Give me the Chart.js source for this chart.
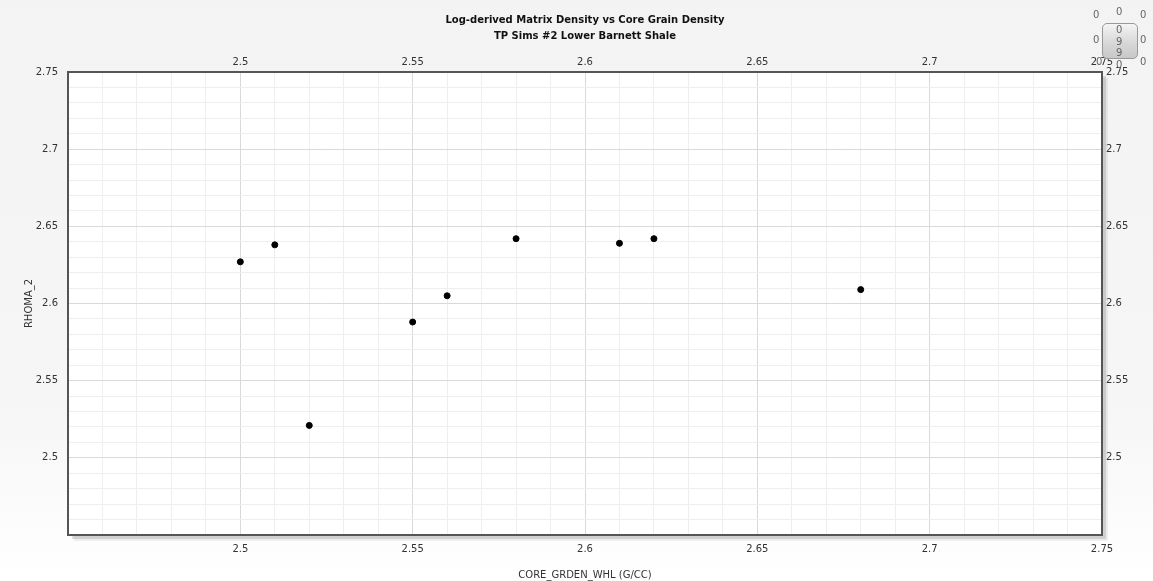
<!DOCTYPE html>
<html>
<head>
<meta charset="utf-8">
<script src="https://cdn.jsdelivr.net/npm/chart.js@4"></script>
<style>
  html, body { margin: 0; padding: 0; }
  body {
    width: 1153px; height: 581px; overflow: hidden; position: relative;
    background: linear-gradient(#f3f3f3 0%, #f6f6f6 70%, #ffffff 100%);
    font-family: "DejaVu Sans", Verdana, sans-serif;
  }
  #wrap { position: absolute; left: 0; top: 0; width: 1153px; height: 581px; }
  .title { position: absolute; left: 0; width: 1170px; text-align: center; font-weight: bold; font-size: 10px; color: #111; }
  .w { position: absolute; font-size: 10px; color: #666; line-height: 10px; }
  #box {
    position: absolute; left: 1102px; top: 23px; width: 34px; height: 34px;
    border: 1px solid #999; border-radius: 5px;
    background: linear-gradient(#f4f4f4, #d6d6d6 60%, #c8c8c8);
  }
</style>
</head>
<body>
<div id="wrap"><canvas id="chart" width="1153" height="581"></canvas></div>
<div class="title" style="top:14px">Log-derived Matrix Density vs Core Grain Density</div>
<div class="title" style="top:30px">TP Sims #2 Lower Barnett Shale</div>
<div id="box"></div>
<div class="w" style="left:1093px;top:10px">0</div>
<div class="w" style="left:1116px;top:7px">0</div>
<div class="w" style="left:1140px;top:10px">0</div>
<div class="w" style="left:1093px;top:35px">0</div>
<div class="w" style="left:1116px;top:25px">0</div>
<div class="w" style="left:1116px;top:37px">9</div>
<div class="w" style="left:1116px;top:48px">9</div>
<div class="w" style="left:1140px;top:35px">0</div>
<div class="w" style="left:1096px;top:57px">0</div>
<div class="w" style="left:1140px;top:57px">0</div>
<div class="w" style="left:1116px;top:60px">0</div>
<script>
// values
const coreGrainDensity = [2.5, 2.51, 2.52, 2.55, 2.56, 2.58, 2.61, 2.62, 2.68];
const rhoma2 = [2.627, 2.638, 2.521, 2.588, 2.605, 2.642, 2.639, 2.642, 2.609];
const xMin = 2.45, xMax = 2.75;
const yMin = 2.45, yMax = 2.75;
const minorStep = 0.01;

const points = coreGrainDensity.map((x, i) => ({ x: x, y: rhoma2[i] }));

function isMajor(v) {
  const k = v * 20;
  return Math.abs(k - Math.round(k)) < 1e-6;
}
function fmt(v) {
  if (!isMajor(v)) return "";
  if (Math.abs(v - xMin) < 1e-6) return "";
  return String(Math.round(v * 100) / 100);
}
function gridColor(ctx) {
  if (!ctx.tick) return "#eeeeee";
  return isMajor(ctx.tick.value) ? "#d9d9d9" : "#eeeeee";
}

const plotBg = {
  id: "plotBg",
  beforeDraw(chart) {
    const a = chart.chartArea, c = chart.ctx;
    c.save();
    c.fillStyle = "rgba(0,0,0,0.12)";
    c.fillRect(a.left + 4, a.top + 4, a.right - a.left, a.bottom - a.top);
    c.fillStyle = "rgba(0,0,0,0.06)";
    c.fillRect(a.left + 6, a.top + 6, a.right - a.left, a.bottom - a.top);
    c.fillStyle = "#ffffff";
    c.fillRect(a.left, a.top, a.right - a.left, a.bottom - a.top);
    c.restore();
  },
  afterDatasetsDraw(chart) {
    const a = chart.chartArea, c = chart.ctx;
    c.save();
    c.strokeStyle = "#555555";
    c.lineWidth = 2;
    c.strokeRect(a.left, a.top, a.right - a.left, a.bottom - a.top);
    c.restore();
  }
};

const tickFont = { family: "DejaVu Sans", size: 10 };
const tickColor = "#333333";

new Chart(document.getElementById("chart"), {
  type: "scatter",
  data: {
    datasets: [{
      label: "RHOMA_2",
      data: points,
      backgroundColor: "#000000",
      borderColor: "#000000",
      pointRadius: 3,
      pointHoverRadius: 3
    }]
  },
  plugins: [plotBg],
  options: {
    responsive: false,
    animation: false,
    events: [],
    layout: { padding: 0 },
    plugins: { legend: { display: false }, tooltip: { enabled: false }, title: { display: false } },
    scales: {
      x: {
        type: "linear", position: "bottom", min: xMin, max: xMax,
        afterFit(s) { s.height = 46; },
        ticks: { stepSize: minorStep, autoSkip: false, maxRotation: 0, padding: 8, font: tickFont, color: tickColor, callback: v => fmt(v) },
        grid: { color: gridColor, drawTicks: false },
        border: { display: false },
        title: { display: true, text: "CORE_GRDEN_WHL (G/CC)", font: tickFont, color: "#333333", padding: { top: 4, bottom: 0 } }
      },
      x2: {
        type: "linear", position: "top", min: xMin, max: xMax,
        afterFit(s) { s.height = 72; },
        ticks: { stepSize: minorStep, autoSkip: false, maxRotation: 0, padding: 4, font: tickFont, color: tickColor, callback: v => fmt(v) },
        grid: { display: false, drawTicks: false },
        border: { display: false }
      },
      y: {
        type: "linear", position: "left", min: yMin, max: yMax,
        afterFit(s) { s.width = 68; },
        ticks: { stepSize: minorStep, autoSkip: false, padding: 10, font: tickFont, color: tickColor, callback: v => fmt(v) },
        grid: { color: gridColor, drawTicks: false },
        border: { display: false },
        title: { display: true, text: "RHOMA_2", font: tickFont, color: "#333333", padding: { top: 23, bottom: 0 } }
      },
      y2: {
        type: "linear", position: "right", min: yMin, max: yMax,
        afterFit(s) { s.width = 51; },
        ticks: { stepSize: minorStep, autoSkip: false, padding: 4, font: tickFont, color: tickColor, callback: v => fmt(v) },
        grid: { display: false, drawTicks: false },
        border: { display: false }
      }
    }
  }
});
</script>
</body>
</html>
